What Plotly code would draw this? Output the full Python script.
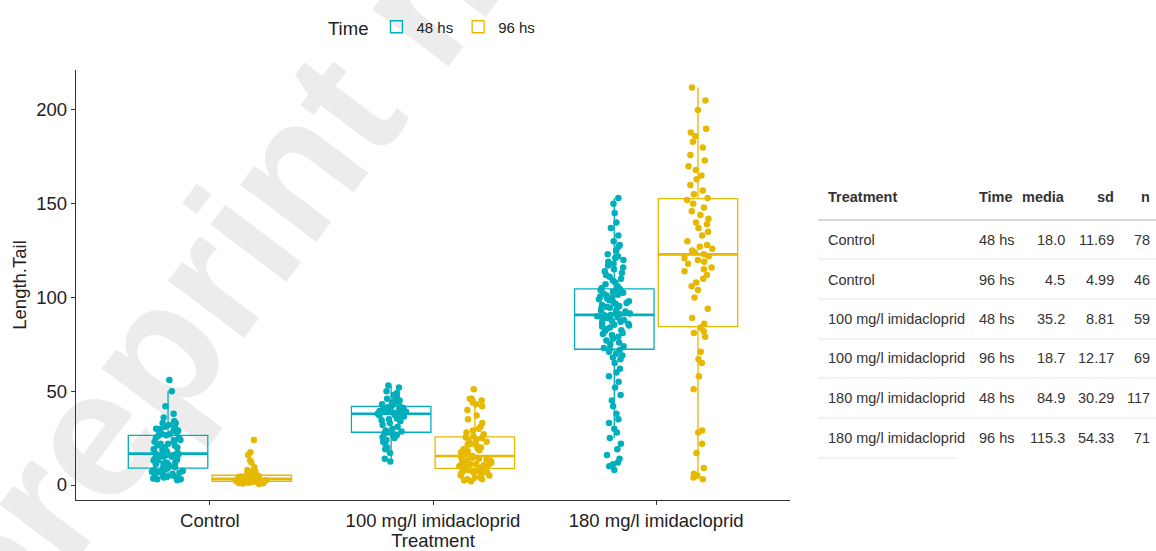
import numpy as np
import plotly.graph_objects as go

# ---------------- data ----------------
treatments = ["Control", "100 mg/l imidacloprid", "180 mg/l imidacloprid"]
times = ["48 hs", "96 hs"]

control_48 = [2.5, 3, 3, 3.5, 4, 4, 4.5, 5, 5, 5.5, 6, 6, 6.5, 7, 7, 7.5, 8, 8, 8.5, 9,
              9.5, 10, 10, 11, 11, 11.5, 12, 12, 13, 13, 13.5, 14, 14, 15, 15, 15.5, 16, 16, 16.5,
              17, 17, 18, 18, 19, 19, 20, 20, 21, 21, 22, 22, 23, 23, 24, 24, 25, 25, 26,
              26.5, 27, 27, 28, 28, 29, 29, 30, 30, 31, 31, 32, 33, 33, 34, 36, 38, 42, 50, 56]
control_96 = [0.5, 0.8, 1, 1, 1.2, 1.3, 1.5, 1.5, 1.6, 1.8, 1.8, 2,
              2, 2.2, 2.3, 2.5, 2.5, 2.7, 2.8, 3, 3, 3, 3.2,
              3.3, 3.5, 3.5, 3.8, 4, 4, 4.2, 4.5, 4.5, 4.8, 5,
              5.2, 5.5, 6, 6.5, 7, 8, 9.5, 12, 13, 16, 17.5, 24]
imi100_48 = [12.5, 14, 17, 19, 20, 22, 23, 24, 25, 25.5, 26, 26.5, 27, 27.5, 28,
             28.5, 29, 30, 31, 32, 33, 34, 34.5, 35, 35.5, 36, 36.5, 37, 37.5, 38,
             38.5, 38.5, 39, 39, 39.5, 39.5, 40, 40, 40.5, 40.5, 41, 41, 41.5, 41.5,
             42, 42, 43, 43, 44, 44, 45, 45, 46, 47, 48, 49, 50, 52, 53]
imi100_96 = [2, 2.5, 3, 3, 4, 4, 5, 5, 6, 6, 6.5, 7, 7, 7.5, 8, 8, 8.5, 9,
             9.5, 10, 10, 10.5, 11, 11, 11.5, 12, 12, 12.5, 13, 13, 13.5, 14, 14.5, 15, 15.5,
             16, 16.5, 17, 17.5, 18, 18.5, 19, 19.5, 20, 21, 21.5, 22, 23, 23.5, 24, 25, 25.5,
             26, 27, 28, 29, 30, 31, 33, 35, 37, 40, 42, 43, 44, 45, 46, 46, 51]
imi180_48 = [8, 10, 11, 12, 14, 16, 19, 22, 25, 28, 30, 33, 35, 38, 42, 45, 48, 52, 55, 58,
             60, 62, 65, 67, 68, 69, 70, 71, 72, 72.5,
             73, 74, 75, 76, 77, 78, 79, 80, 80.5, 81, 82, 82.5, 83, 84, 84.5, 85, 85.5, 86,
             86.5, 87, 87.5, 88, 88.5, 89, 89.5, 90, 90, 90.5, 90.7,
             91, 91.5, 92, 92.5, 93, 93.5, 94, 94.5, 95, 95.5, 96, 96.5, 97, 97.5, 98, 98.5,
             99, 99.5, 100, 100.5, 101, 101.5, 102, 102.5, 103, 103.5, 104, 104, 104.5,
             105, 106, 107, 108, 109, 110, 111, 112, 113, 114, 115, 116, 117, 118, 119, 120,
             121, 122, 123, 125, 127, 128, 130, 133, 137, 140, 145, 150, 153]
imi180_96 = [3, 4, 5, 6, 9, 17, 22, 28, 29, 51, 58, 65, 67, 71, 79, 81, 82, 84,
             86, 89, 94, 100, 104, 106, 108, 110, 112, 114, 115, 116, 118, 119, 120, 121, 122,
             123,
             124, 125, 126, 127, 128, 130, 133, 135, 137, 139, 140, 142, 144, 146, 148, 150, 152,
             153, 155, 157, 160, 163, 165, 168, 170, 173, 176, 180, 183, 186, 188, 190, 200, 205, 212]

values_48 = [control_48, imi100_48, imi180_48]
values_96 = [control_96, imi100_96, imi180_96]

# summary table
tbl_header = ["Treatment", "Time", "media", "sd", "n"]
tbl_treatment = ["Control", "Control", "100 mg/l imidacloprid", "100 mg/l imidacloprid",
                 "180 mg/l imidacloprid", "180 mg/l imidacloprid"]
tbl_time = ["48 hs", "96 hs", "48 hs", "96 hs", "48 hs", "96 hs"]
tbl_media = ["18.0", "4.5", "35.2", "18.7", "84.9", "115.3"]
tbl_sd = ["11.69", "4.99", "8.81", "12.17", "30.29", "54.33"]
tbl_n = ["78", "46", "59", "69", "117", "71"]

# ---------------- figure ----------------
W, H = 1156, 551
ML, MR, MT, MB = 76, 366, 70, 51
PW, PH = W - ML - MR, H - MT - MB
FONT = "Liberation Sans, Arial, sans-serif"
colors = {"48 hs": "#00AFBB", "96 hs": "#E7B800"}


def px(x):
    return (x - ML) / PW


def py(y):
    return (H - MB - y) / PH


fig = go.Figure()
for tm, groups in zip(times, [values_48, values_96]):
    xs, ys = [], []
    for tr, arr in zip(treatments, groups):
        xs += [tr] * len(arr)
        ys += arr
    fig.add_trace(go.Box(
        x=xs, y=ys, name=tm, boxpoints="all", jitter=0.45, pointpos=0,
        offsetgroup=tm, legendgroup=tm,
        fillcolor="rgba(255,255,255,0)", whiskerwidth=0,
        line=dict(color=colors[tm], width=1.3),
        marker=dict(color=colors[tm], size=6.5, opacity=1),
    ))
# thicker median line (as in ggplot), from the same data
for tm, groups in zip(times, [values_48, values_96]):
    med = [float(np.median(arr)) for arr in groups]
    fig.add_trace(go.Box(
        x=treatments, q1=med, median=med, q3=med, lowerfence=med, upperfence=med,
        name=tm, offsetgroup=tm, legendgroup=tm, showlegend=False, hoverinfo="skip",
        fillcolor="rgba(255,255,255,0)", whiskerwidth=0, boxpoints=False,
        line=dict(color=colors[tm], width=2.6),
    ))

shapes = []
annotations = []

# watermark (drawn below the data)
shapes.append(dict(
    type="rect", xref="paper", yref="paper", layer="below",
    x0=px(186), x1=px(196), y0=py(281), y1=py(271),
    line=dict(width=0), fillcolor="rgba(0,0,0,0)",
    label=dict(text="<b>preprint n</b>", textangle=-53, textposition="middle center",
               font=dict(size=180, color="#ececec", family=FONT)),
))

# table
col_x = [826, 977, 1067, 1116, 1152]
col_anchor = ["left", "left", "right", "right", "right"]
row_y = [240, 280, 319, 358, 398, 438]
header_y = 197
for cx, ca, txt in zip(col_x, col_anchor, tbl_header):
    annotations.append(dict(xref="paper", yref="paper", x=px(cx), y=py(header_y),
                            xanchor=ca, yanchor="middle", showarrow=False,
                            text="<b>%s</b>" % txt,
                            font=dict(size=14.5, color="#333333", family=FONT)))
rows = list(zip(tbl_treatment, tbl_time, tbl_media, tbl_sd, tbl_n))
for ry, row in zip(row_y, rows):
    for cx, ca, txt in zip(col_x, col_anchor, row):
        annotations.append(dict(xref="paper", yref="paper", x=px(cx), y=py(ry),
                                xanchor=ca, yanchor="middle", showarrow=False, text=txt,
                                font=dict(size=14.5, color="#333333", family=FONT)))
shapes.append(dict(type="line", xref="paper", yref="paper", x0=px(818), x1=px(1156),
                   y0=py(220), y1=py(220), line=dict(color="#d6d6d6", width=2)))
for ly in [259, 299, 339, 378, 418]:
    shapes.append(dict(type="line", xref="paper", yref="paper", x0=px(818), x1=px(1156),
                       y0=py(ly), y1=py(ly), line=dict(color="#e6e6e6", width=1)))
shapes.append(dict(type="line", xref="paper", yref="paper", x0=px(818), x1=px(957),
                   y0=py(458), y1=py(458), line=dict(color="#e6e6e6", width=1)))

fig.update_layout(
    width=W, height=H,
    margin=dict(l=ML, r=MR, t=MT, b=MB, autoexpand=False),
    paper_bgcolor="white", plot_bgcolor="rgba(0,0,0,0)",
    font=dict(family=FONT, color="#222222"),
    boxmode="group", boxgap=0.25, boxgroupgap=0.05,
    showlegend=True,
    legend=dict(orientation="h", x=px(326), xanchor="left", y=py(28), yanchor="middle",
                title=dict(text="Time", font=dict(size=18.5, color="#222222")),
                font=dict(size=15, color="#222222"), bgcolor="rgba(0,0,0,0)"),
    shapes=shapes, annotations=annotations,
)
fig.update_xaxes(
    type="category", range=[-0.6, 2.6], categoryorder="array", categoryarray=treatments,
    showline=True, linecolor="#333333", linewidth=1.3, ticks="outside", ticklen=4,
    tickcolor="#333333", showgrid=False, zeroline=False,
    tickfont=dict(size=18.5, color="#222222"),
    title=dict(text="Treatment", font=dict(size=18.5, color="#222222"), standoff=3),
    automargin=False,
)
fig.update_yaxes(
    range=[-8, 221.3], tickvals=[0, 50, 100, 150, 200],
    showline=True, linecolor="#333333", linewidth=1.3, ticks="outside", ticklen=4,
    tickcolor="#333333", showgrid=False, zeroline=False,
    tickfont=dict(size=18.5, color="#222222"),
    title=dict(text="Length.Tail", font=dict(size=18.5, color="#222222"), standoff=4),
    automargin=False,
)

fig.write_html("out.html")
